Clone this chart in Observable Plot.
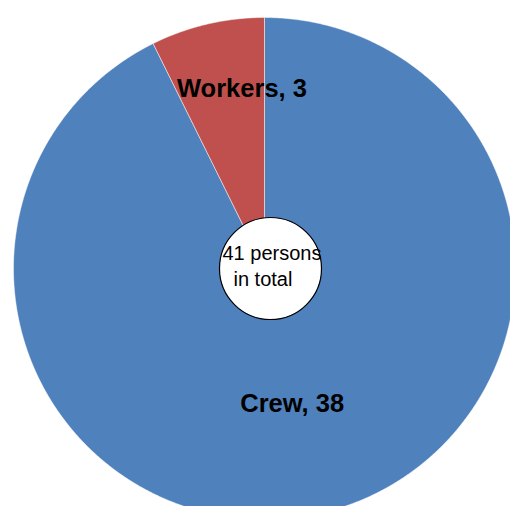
<!DOCTYPE html>
<html>
<head>
<meta charset="utf-8">
<script src="https://cdn.jsdelivr.net/npm/d3@7"></script>
<script src="https://cdn.jsdelivr.net/npm/@observablehq/plot@0.6"></script>
<style>
  html, body { margin: 0; padding: 0; background: #fff; overflow: hidden; }
  #chart svg { display: block; }
</style>
</head>
<body>
<div id="chart"></div>
<script>
// ---- data ----
const categories = ["Crew", "Workers"];
const values = [38, 3];
const colors = ["#4F81BD", "#C0504D"];
const centerLines = ["41 persons", "in total"];

// ---- styling helpers (label placement factors) ----
const labelRadius = [0.554, 0.709];
const labelDx = [-4, 18];
const labelDy = [0, -6];

const arcs = d3.pie().sort(null)(values);

// slice outlines in unit space (y up), clockwise from 12 o'clock
const slicePts = [];
arcs.forEach((a, i) => {
  const name = categories[i];
  slicePts.push({name, x: 0, y: 0});
  const n = Math.max(2, Math.ceil((a.endAngle - a.startAngle) / 0.005));
  for (let k = 0; k <= n; k++) {
    const t = a.startAngle + (a.endAngle - a.startAngle) * k / n;
    slicePts.push({name, x: Math.sin(t), y: Math.cos(t)});
  }
  slicePts.push({name, x: 0, y: 0});
});

const labels = arcs.map((a, i) => {
  const m = (a.startAngle + a.endAngle) / 2;
  return {
    text: `${categories[i]}, ${values[i]}`,
    x: labelRadius[i] * Math.sin(m),
    y: labelRadius[i] * Math.cos(m),
    dx: labelDx[i], dy: labelDy[i]
  };
});

const total = d3.sum(values);
const inner = [{x: 0, y: 0, total}];

const font = "'Liberation Sans', Arial, sans-serif";

const chart = Plot.plot({
  width: 510,
  height: 506,
  margin: 0,
  x: {domain: [-1, 1], range: [13, 515], axis: null},
  y: {domain: [-1, 1], range: [519, 17], axis: null},
  color: {domain: categories, range: colors},
  style: {background: "#fff"},
  marks: [
    Plot.line(slicePts, {
      x: "x", y: "y", z: "name", fill: "name",
      stroke: "#fff", strokeOpacity: 0.6, strokeWidth: 0.8, curve: "linear"
    }),
    ...labels.map(l => Plot.text([l], {
      x: "x", y: "y", text: "text", dx: l.dx, dy: l.dy,
      fontFamily: font, fontSize: 25.5, fontWeight: "bold", fill: "#000"
    })),
    Plot.dot(inner, {x: "x", y: "y", r: 51, dx: 6, fill: "#fff", stroke: "#000", strokeWidth: 1.2}),
    Plot.text(inner, {x: "x", y: "y", text: () => centerLines[0], textAnchor: "start", dx: -42, dy: -15,
      fontFamily: font, fontSize: 20, fill: "#000"}),
    Plot.text(inner, {x: "x", y: "y", text: () => centerLines[1], textAnchor: "start", dx: -31, dy: 11,
      fontFamily: font, fontSize: 20, fill: "#000"})
  ]
});

document.getElementById("chart").appendChild(chart);
</script>
</body>
</html>
